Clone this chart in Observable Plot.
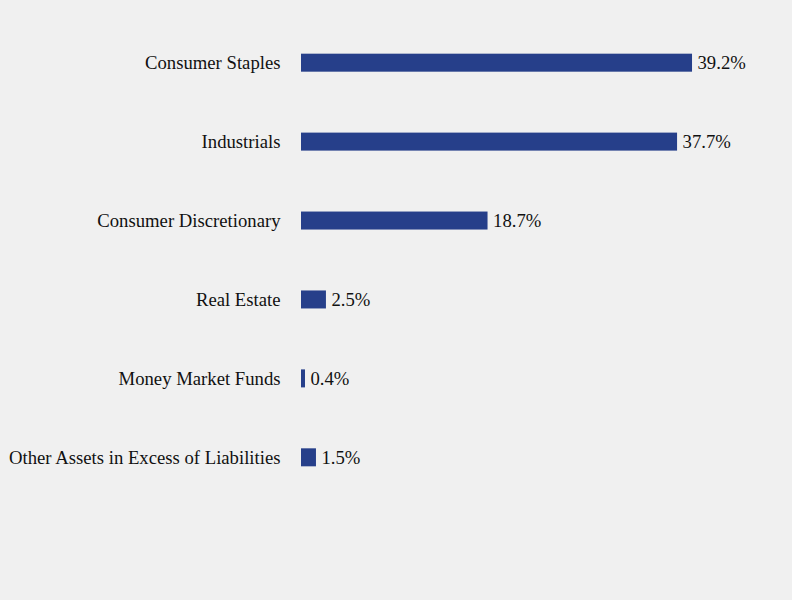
<!DOCTYPE html>
<html>
<head>
<meta charset="utf-8">
<script src="https://cdn.jsdelivr.net/npm/d3@7"></script>
<script src="https://cdn.jsdelivr.net/npm/@observablehq/plot@0.6"></script>
<style>
  html, body { margin: 0; padding: 0; background: #f0f0f0; }
  #chart svg { display: block; }
</style>
</head>
<body>
<div id="chart"></div>
<script>
const categories = [
  "Consumer Staples",
  "Industrials",
  "Consumer Discretionary",
  "Real Estate",
  "Money Market Funds",
  "Other Assets in Excess of Liabilities"
];
const values = [39.2, 37.7, 18.7, 2.5, 0.4, 1.5];
const valueLabels = ["39.2%", "37.7%", "18.7%", "2.5%", "0.4%", "1.5%"];

const data = categories.map((c, i) => ({category: c, value: values[i], label: valueLabels[i]}));

const chart = Plot.plot({
  width: 792,
  height: 600,
  marginLeft: 301,
  marginRight: 92,
  marginTop: 30,
  marginBottom: 110,
  style: {background: "#f0f0f0", fontFamily: "'Liberation Serif', 'Times New Roman', serif", fontSize: "18.7px", color: "#111"},
  x: {domain: [0, 40], axis: null},
  y: {domain: categories, paddingInner: 0.772, paddingOuter: 0.3, round: false, label: null, tickSize: 0, tickPadding: 21},
  marks: [
    Plot.barX(data, {x: "value", y: "category", fill: "#263f8a"}),
    Plot.text(data, {x: "value", y: "category", text: "label", textAnchor: "start", dx: 5, fontSize: 18.7, fill: "#111"})
  ]
});
document.getElementById("chart").appendChild(chart);
</script>
</body>
</html>
